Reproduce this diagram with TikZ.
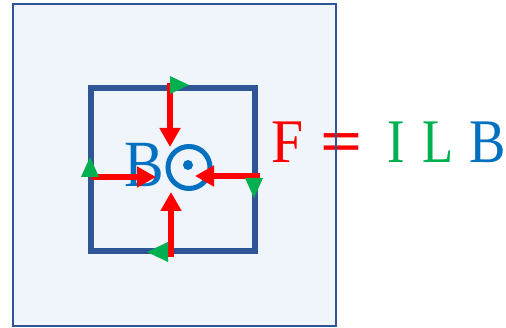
\documentclass[tikz,border=0pt]{standalone}
\usepackage{fontspec}
\setmainfont{Liberation Serif}
\usetikzlibrary{arrows.meta}
\definecolor{bgblue}{HTML}{F0F4FB}
\definecolor{frameblue}{HTML}{2F5597}
\definecolor{fred}{HTML}{FF0000}
\definecolor{igreen}{HTML}{00B050}
\definecolor{bblue}{HTML}{0070C0}
\newcommand{\narrow}[2]{\scalebox{#1}[1]{#2}}
\tikzset{
  force/.style={draw=fred, line width=6.5pt, -{Triangle[width=20pt,length=19pt]}},
  current/.style={fill=igreen, draw=none},
  eqtext/.style={anchor=base west, inner sep=0pt, font=\fontsize{62}{62}\selectfont},
}
\begin{document}
\begin{tikzpicture}[x=1pt,y=-1pt]
\useasboundingbox (0,0) rectangle (506,328);
% outer field region
\fill[bgblue] (13,4) rectangle (336,326);
% wire loop
\draw[frameblue, line width=6pt] (91,88) rectangle (255,251);
% B label
\node[anchor=base west, inner sep=0pt, text=bblue, font=\fontsize{66}{66}\selectfont] (blabel) at (124,187) {\narrow{0.9}{B}};
% out-of-page symbol
\draw[bblue, line width=5pt] (189,167.5) circle (21);
\fill[bblue] (188,165) circle (5);
% forces
\coordinate (t0) at (170,83);  \coordinate (t1) at (170,147);
\coordinate (l0) at (91,177);  \coordinate (l1) at (156,177);
\coordinate (r0) at (260,176); \coordinate (r1) at (195,176);
\coordinate (b0) at (171,257); \coordinate (b1) at (171,192);
\draw[force] (t0) -- (t1);
\draw[force] (l0) -- (l1);
\draw[force] (r0) -- (r1);
\draw[force] (b0) -- (b1);
% current direction markers
\fill[current] (170,76) -- (189,85) -- (170,94) -- cycle;
\fill[current] (81,177) -- (90,157) -- (99,177) -- cycle;
\fill[current] (245,178) -- (263,178) -- (254,198) -- cycle;
\fill[current] (168,242) -- (147,252) -- (168,262) -- cycle;
% formula
\node[eqtext, text=fred] (fF) at (271,163) {\narrow{0.93}{F}};
\node[eqtext, text=fred] (feq) at (320,163) {\narrow{1.2}{\textbf{=}}};
\node[eqtext, text=igreen] (fI) at (387,163) {\narrow{0.85}{I}};
\node[eqtext, text=igreen] (fL) at (422,163) {\narrow{0.82}{L}};
\node[eqtext, text=bblue] (fB) at (469,163) {\narrow{0.88}{B}};
% outer frame on top
\draw[frameblue, line width=1.6pt] (13,4) rectangle (336,326);
\end{tikzpicture}
\end{document}
